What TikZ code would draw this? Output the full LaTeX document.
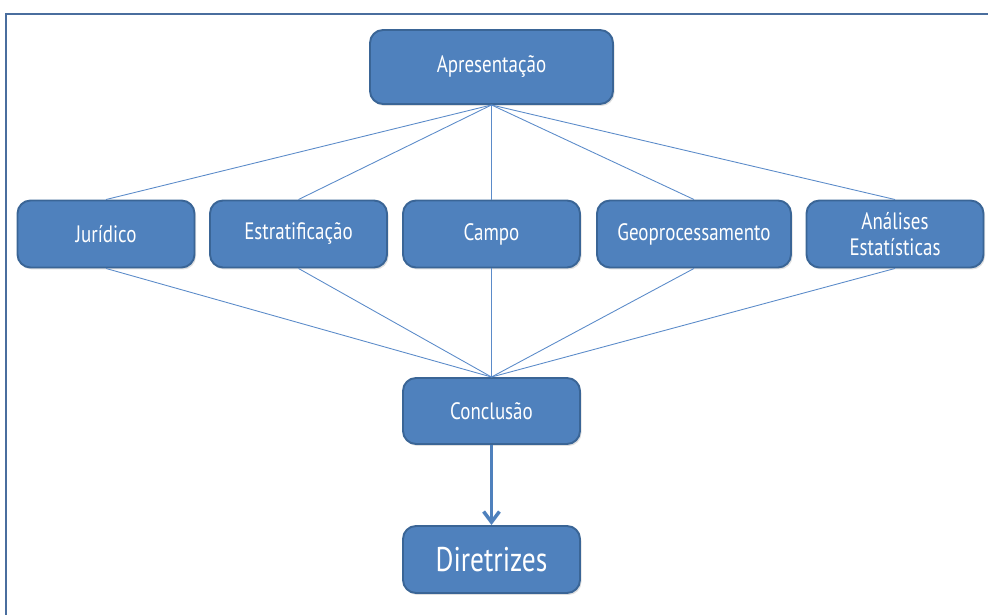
\documentclass[tikz,border=0pt]{standalone}
\usepackage{fontspec}
\setmainfont[FakeStretch=0.8]{PT Sans}
\usepackage{tikz}
\usetikzlibrary{positioning, arrows.meta, shadows}
\definecolor{boxblue}{HTML}{4F81BD}
\definecolor{boxedge}{HTML}{3A6596}
\definecolor{linkblue}{HTML}{5B8BC9}
\definecolor{framec}{HTML}{4A6E9E}
\tikzset{
	stagebox/.style={draw=boxedge, line width=1.1pt, fill=boxblue, rounded corners=0.26cm,
		text=white, align=center, font=\fontsize{13.5}{14.5}\selectfont,
		minimum width=3.54cm, minimum height=1.34cm, inner sep=2pt,
		drop shadow={shadow xshift=0.03cm, shadow yshift=-0.04cm, opacity=0.25}}
}
\tikzset{
	link/.style={draw=linkblue, line width=0.5pt}
}
\begin{document}
\begin{tikzpicture}[>=stealth]
      \useasboundingbox (0,0) rectangle (19.76,12.3);
      \draw[framec, line width=1.1pt] (0.12,0) -- (0.12,12.02) -- (19.76,12.02);
      \node[stagebox, minimum width=4.86cm, minimum height=1.48cm] (apres) at (9.83,10.96) {Apresentação};
      \node[stagebox] (jur) at (2.12,7.62) {Jurídico};
      \node[stagebox] (estrat) at (5.97,7.62) {Estratificação};
      \node[stagebox] (campo) at (9.83,7.62) {Campo};
      \node[stagebox, minimum width=3.88cm] (geo) at (13.88,7.62) {Geoprocessamento};
      \node[stagebox] (anal) at (17.9,7.62) {Análises\\Estatísticas};
      \node[stagebox, minimum height=1.32cm] (concl) at (9.83,4.08) {Conclusão};
      \node[stagebox, font=\fontsize{19.5}{21}\selectfont] (dir) at (9.83,1.11) {Diretrizes};
      \foreach \n in {jur, estrat, campo, geo, anal} {
        \draw[link] (apres.south) -- (\n.north);
        \draw[link] (\n.south) -- (concl.north);
      }
      \draw[boxblue, line width=2pt, -{Straight Barb[length=6pt, width=9pt]}] (concl.south) -- (dir.north);
    \end{tikzpicture}
\end{document}
